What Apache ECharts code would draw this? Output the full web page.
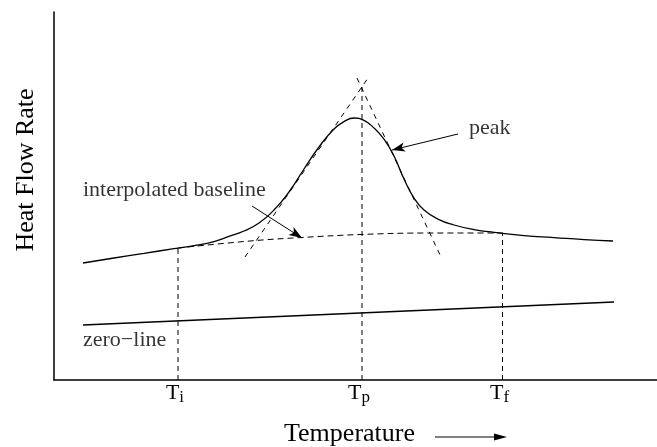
<!DOCTYPE html>
<html>
<head>
<meta charset="utf-8">
<script src="https://cdn.jsdelivr.net/npm/echarts@6/dist/echarts.min.js"></script>
<style>
  html, body { margin: 0; padding: 0; background: #fff; }
  #chart { width: 657px; height: 447px; }
</style>
</head>
<body>
<div id="chart"></div>
<script>
// ---- data (arbitrary schematic units) ----
const curveX = [5.8, 12, 18, 24, 28, 32, 35, 38, 41, 44, 47, 50, 53, 56, 58, 60, 62, 64, 66, 68, 70, 72, 74, 77, 80, 84, 88, 94, 100, 106, 111.8];
const curveY = [29.25, 30.5, 31.65, 32.85, 33.6, 34.6, 35.9, 37.25, 39.25, 42.5, 47, 52.75, 58.25, 62.75, 64.6, 65.5, 64.9, 63, 60.2, 56, 50.25, 45.5, 42.5, 40.1, 38.75, 37.6, 36.9, 36.1, 35.6, 35.1, 34.75];

const baselineX = [24.8, 39.2, 49.2, 61.8, 75.2, 89.8];
const baselineY = [33, 34.75, 35.6, 36.4, 36.75, 36.75];

const zeroLineX = [5.8, 112];
const zeroLineY = [13.75, 19.5];

const tangentLeftX = [38.2, 62.8];
const tangentLeftY = [30.75, 75.5];
const tangentRightX = [60.6, 77.4];
const tangentRightY = [75.5, 30.75];

const tickValues = [24.8, 61.6, 89.7];
const tickMain = ['T', 'T', 'T'];
const tickSub = ['i', 'p', 'f'];
const dropTopY = [33, 73.25, 36.75];

const annotText = ['interpolated baseline', 'peak', 'zero\u2212line'];
const annotX = [5.8, 83, 5.8];
const annotY = [47.5, 63, 10];

const arrowFromX = [39.6, 80.8];
const arrowFromY = [43.5, 61.5];
const arrowToX = [49.6, 67.6];
const arrowToY = [35.5, 57.5];

const xTitle = 'Temperature';
const yTitle = 'Heat Flow Rate';

// ---- build ----
const zip = (xs, ys) => xs.map((x, i) => [x, ys[i]]);
const SERIF = 'Liberation Serif';
const solid = { color: '#000', width: 1.3, type: 'solid' };
const dashed = { color: '#000', width: 1, type: [5, 4] };

function lineSeries(data, style, extra) {
  return Object.assign({
    type: 'line', data: data, showSymbol: false, symbol: 'none',
    lineStyle: style, itemStyle: { color: '#000' }, silent: true, animation: false, z: 3
  }, extra || {});
}

const series = [];
series.push(lineSeries(zip(curveX, curveY), solid, {
  smooth: 0.5,
  markLine: {
    silent: true, animation: false,
    symbol: ['none', 'arrow'], symbolSize: [7, 13],
    label: { show: false },
    lineStyle: { color: '#000', width: 1, type: 'solid' },
    data: arrowFromX.map((x, i) => [
      { coord: [x, arrowFromY[i]] },
      { coord: [arrowToX[i], arrowToY[i]] }
    ])
  }
}));
series.push(lineSeries(zip(baselineX, baselineY), { color: '#000', width: 1, type: [6, 4] }, { smooth: 0.4 }));
series.push(lineSeries(zip(zeroLineX, zeroLineY), solid));
series.push(lineSeries(zip(tangentLeftX, tangentLeftY), { color: '#000', width: 1, type: [5, 5] }));
series.push(lineSeries(zip(tangentRightX, tangentRightY), { color: '#000', width: 1, type: [5, 5] }));
tickValues.forEach((v, i) => {
  series.push(lineSeries([[v, 0], [v, dropTopY[i]]], dashed));
});
series.push({
  type: 'scatter', silent: true, animation: false,
  symbolSize: 0,
  data: annotX.map((x, i) => [x, annotY[i], annotText[i]]),
  label: {
    show: true, position: 'right', distance: 0,
    formatter: p => p.data[2],
    fontFamily: SERIF, fontSize: 22, color: '#000'
  }
});

const option = {
  animation: false,
  backgroundColor: '#fff',
  grid: { left: 54, right: 0, top: 12, bottom: 67, containLabel: false, outerBoundsMode: 'none' },
  xAxis: {
    type: 'value', min: 0, max: 120.6,
    name: xTitle, nameLocation: 'middle', nameGap: 41, nameMoveOverlap: false,
    nameTextStyle: { fontFamily: SERIF, fontSize: 26, color: '#000', padding: [0, 12, 0, 0] },
    axisLine: { show: true, lineStyle: { color: '#000', width: 1.5 } },
    axisTick: { show: false },
    splitLine: { show: false },
    axisLabel: {
      customValues: tickValues,
      margin: 2,
      formatter: v => {
        const i = tickValues.indexOf(v);
        return i < 0 ? '' : '{t|' + tickMain[i] + '}{s|' + tickSub[i] + '}';
      },
      padding: [0, 6, 0, 0],
      rich: {
        t: { fontFamily: SERIF, fontSize: 22, color: '#000', lineHeight: 24, verticalAlign: 'top' },
        s: { fontFamily: SERIF, fontSize: 17, color: '#000', lineHeight: 18, padding: [7, 0, 0, 0], verticalAlign: 'top' }
      }
    }
  },
  yAxis: {
    type: 'value', min: 0, max: 92,
    name: yTitle, nameLocation: 'middle', nameRotate: 90, nameGap: 15, nameMoveOverlap: false,
    nameTextStyle: { fontFamily: SERIF, fontSize: 26, color: '#000', padding: [0, 0, 0, 52] },
    axisLine: { show: true, lineStyle: { color: '#000', width: 1.5 } },
    axisTick: { show: false },
    splitLine: { show: false },
    axisLabel: { show: false }
  },
  graphic: [
    { type: 'line', shape: { x1: 435, y1: 437, x2: 498, y2: 437 }, style: { stroke: '#000', lineWidth: 1.2 }, silent: true },
    { type: 'polygon', shape: { points: [[507, 437], [494, 433.5], [494, 440.5]] }, style: { fill: '#000' }, silent: true }
  ],
  series: series
};

const chart = echarts.init(document.getElementById('chart'), null, { renderer: 'canvas' });
chart.setOption(option);
</script>
</body>
</html>
